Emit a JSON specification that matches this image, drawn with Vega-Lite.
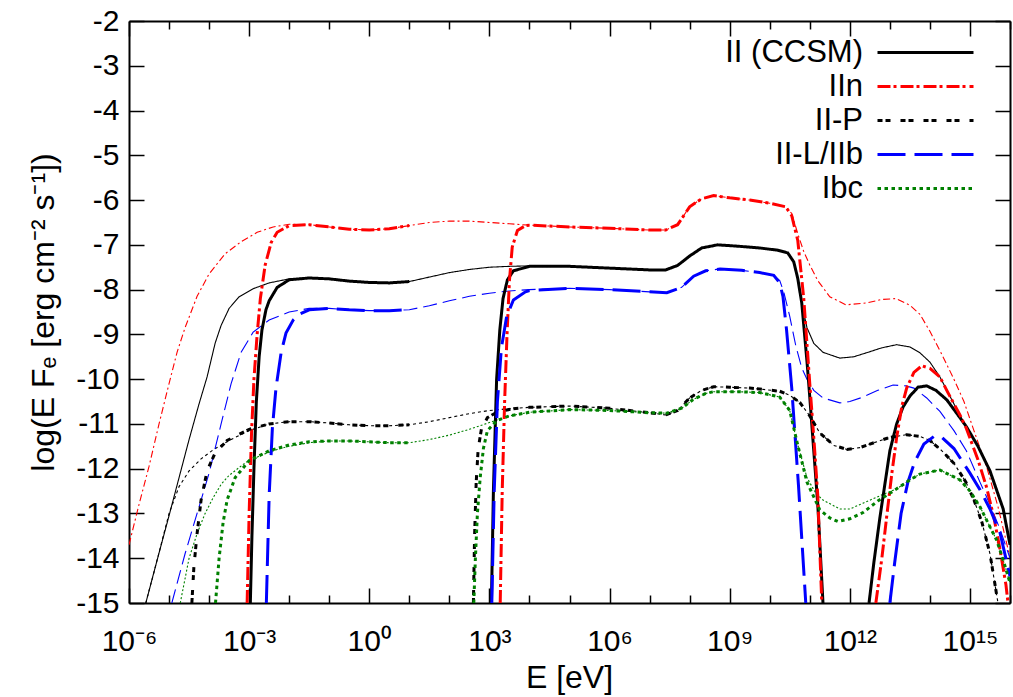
{
"$schema": "https://vega.github.io/schema/vega-lite/v6.json",
"width": 881, "height": 582,
"autosize": {"type": "none"},
"padding": {"left": 129, "top": 21, "right": 3, "bottom": 94},
"background": "white",
"config": {
  "font": "Liberation Sans",
  "view": {"stroke": null},
  "axis": {"domainColor": "black", "domainWidth": 2, "tickColor": "black", "tickWidth": 1.5, "labelColor": "black", "labelFont": "Liberation Sans", "titleFont": "Liberation Sans", "titleColor": "black", "grid": false, "titleFontWeight": "normal"},
  "legend": {"padding": 0, "symbolType": "M-6,0H6", "symbolSize": 256, "symbolStrokeWidth": 3, "labelFontSize": 31, "labelAlign": "right", "labelOffset": -78, "labelBaseline": "middle", "rowPadding": 2, "labelLimit": 300, "labelColor": "black", "labelFont": "Liberation Sans"}
},
"datasets": {
"thin": [
{"type":"II (CCSM)","logE":-5.58,"logF":-15},{"type":"II (CCSM)","logE":-5.3,"logF":-14.05},{"type":"II (CCSM)","logE":-5.0,"logF":-13.05},{"type":"II (CCSM)","logE":-4.75,"logF":-12.2},{"type":"II (CCSM)","logE":-4.5,"logF":-11.35},{"type":"II (CCSM)","logE":-4.25,"logF":-10.55},{"type":"II (CCSM)","logE":-4.05,"logF":-9.95},{"type":"II (CCSM)","logE":-3.85,"logF":-9.2},{"type":"II (CCSM)","logE":-3.7,"logF":-8.8},{"type":"II (CCSM)","logE":-3.5,"logF":-8.42},{"type":"II (CCSM)","logE":-3.25,"logF":-8.16},{"type":"II (CCSM)","logE":-2.9,"logF":-7.98},{"type":"II (CCSM)","logE":-2.5,"logF":-7.85},{"type":"II (CCSM)","logE":-2.0,"logF":-7.76},{"type":"II (CCSM)","logE":-1.5,"logF":-7.74},{"type":"II (CCSM)","logE":-1.0,"logF":-7.76},{"type":"II (CCSM)","logE":-0.5,"logF":-7.81},{"type":"II (CCSM)","logE":0,"logF":-7.84},{"type":"II (CCSM)","logE":0.5,"logF":-7.85},{"type":"II (CCSM)","logE":1.0,"logF":-7.82},{"type":"II (CCSM)","logE":1.5,"logF":-7.72},{"type":"II (CCSM)","logE":2.0,"logF":-7.62},{"type":"II (CCSM)","logE":2.5,"logF":-7.55},{"type":"II (CCSM)","logE":3.0,"logF":-7.5},{"type":"II (CCSM)","logE":3.5,"logF":-7.48},{"type":"II (CCSM)","logE":4.0,"logF":-7.47},{"type":"II (CCSM)","logE":5.0,"logF":-7.48},{"type":"II (CCSM)","logE":6.0,"logF":-7.52},{"type":"II (CCSM)","logE":7.0,"logF":-7.56},{"type":"II (CCSM)","logE":7.4,"logF":-7.56},{"type":"II (CCSM)","logE":7.7,"logF":-7.46},{"type":"II (CCSM)","logE":8.0,"logF":-7.25},{"type":"II (CCSM)","logE":8.3,"logF":-7.07},{"type":"II (CCSM)","logE":8.7,"logF":-7.0},{"type":"II (CCSM)","logE":9.2,"logF":-7.03},{"type":"II (CCSM)","logE":9.75,"logF":-7.07},{"type":"II (CCSM)","logE":10.2,"logF":-7.12},{"type":"II (CCSM)","logE":10.45,"logF":-7.18},{"type":"II (CCSM)","logE":10.6,"logF":-7.38},{"type":"II (CCSM)","logE":10.7,"logF":-7.75},{"type":"II (CCSM)","logE":10.8,"logF":-8.3},{"type":"II (CCSM)","logE":10.93,"logF":-8.85},{"type":"II (CCSM)","logE":11.1,"logF":-9.2},{"type":"II (CCSM)","logE":11.33,"logF":-9.4},{"type":"II (CCSM)","logE":11.75,"logF":-9.53},{"type":"II (CCSM)","logE":12.1,"logF":-9.5},{"type":"II (CCSM)","logE":12.42,"logF":-9.41},{"type":"II (CCSM)","logE":12.8,"logF":-9.3},{"type":"II (CCSM)","logE":13.17,"logF":-9.23},{"type":"II (CCSM)","logE":13.5,"logF":-9.28},{"type":"II (CCSM)","logE":13.75,"logF":-9.41},{"type":"II (CCSM)","logE":14.0,"logF":-9.62},{"type":"II (CCSM)","logE":14.25,"logF":-9.95},{"type":"II (CCSM)","logE":14.5,"logF":-10.38},{"type":"II (CCSM)","logE":14.85,"logF":-10.98},{"type":"II (CCSM)","logE":15.2,"logF":-11.5},{"type":"II (CCSM)","logE":15.5,"logF":-12.05},{"type":"II (CCSM)","logE":15.83,"logF":-12.9},{"type":"II (CCSM)","logE":16.0,"logF":-13.7},
{"type":"IIn","logE":-6.0,"logF":-13.7},{"type":"IIn","logE":-5.75,"logF":-12.8},{"type":"IIn","logE":-5.5,"logF":-11.95},{"type":"IIn","logE":-5.25,"logF":-11.0},{"type":"IIn","logE":-5.0,"logF":-10.1},{"type":"IIn","logE":-4.8,"logF":-9.4},{"type":"IIn","logE":-4.6,"logF":-8.85},{"type":"IIn","logE":-4.3,"logF":-8.15},{"type":"IIn","logE":-4.0,"logF":-7.65},{"type":"IIn","logE":-3.6,"logF":-7.2},{"type":"IIn","logE":-3.2,"logF":-6.93},{"type":"IIn","logE":-2.8,"logF":-6.72},{"type":"IIn","logE":-2.4,"logF":-6.6},{"type":"IIn","logE":-2.0,"logF":-6.54},{"type":"IIn","logE":-1.5,"logF":-6.55},{"type":"IIn","logE":-1.0,"logF":-6.6},{"type":"IIn","logE":-0.5,"logF":-6.65},{"type":"IIn","logE":0,"logF":-6.67},{"type":"IIn","logE":0.5,"logF":-6.64},{"type":"IIn","logE":1.0,"logF":-6.57},{"type":"IIn","logE":1.5,"logF":-6.5},{"type":"IIn","logE":2.0,"logF":-6.47},{"type":"IIn","logE":2.5,"logF":-6.47},{"type":"IIn","logE":3.0,"logF":-6.5},{"type":"IIn","logE":3.5,"logF":-6.53},{"type":"IIn","logE":4.0,"logF":-6.56},{"type":"IIn","logE":5.0,"logF":-6.6},{"type":"IIn","logE":6.0,"logF":-6.63},{"type":"IIn","logE":7.0,"logF":-6.67},{"type":"IIn","logE":7.4,"logF":-6.67},{"type":"IIn","logE":7.7,"logF":-6.55},{"type":"IIn","logE":8.0,"logF":-6.15},{"type":"IIn","logE":8.3,"logF":-5.97},{"type":"IIn","logE":8.6,"logF":-5.9},{"type":"IIn","logE":9.0,"logF":-5.95},{"type":"IIn","logE":9.5,"logF":-6.0},{"type":"IIn","logE":10.0,"logF":-6.07},{"type":"IIn","logE":10.4,"logF":-6.15},{"type":"IIn","logE":10.55,"logF":-6.3},{"type":"IIn","logE":10.7,"logF":-6.75},{"type":"IIn","logE":10.85,"logF":-7.15},{"type":"IIn","logE":11.0,"logF":-7.45},{"type":"IIn","logE":11.2,"logF":-7.8},{"type":"IIn","logE":11.5,"logF":-8.16},{"type":"IIn","logE":11.9,"logF":-8.34},{"type":"IIn","logE":12.4,"logF":-8.3},{"type":"IIn","logE":12.8,"logF":-8.22},{"type":"IIn","logE":13.15,"logF":-8.2},{"type":"IIn","logE":13.5,"logF":-8.35},{"type":"IIn","logE":13.75,"logF":-8.55},{"type":"IIn","logE":14.0,"logF":-8.93},{"type":"IIn","logE":14.3,"logF":-9.45},{"type":"IIn","logE":14.6,"logF":-10.0},{"type":"IIn","logE":14.85,"logF":-10.5},{"type":"IIn","logE":15.1,"logF":-11.15},{"type":"IIn","logE":15.43,"logF":-12.0},{"type":"IIn","logE":15.7,"logF":-12.85},{"type":"IIn","logE":15.9,"logF":-13.6},{"type":"IIn","logE":16.0,"logF":-14.0},
{"type":"II-P","logE":-5.58,"logF":-15},{"type":"II-P","logE":-5.3,"logF":-14.05},{"type":"II-P","logE":-5.0,"logF":-13.0},{"type":"II-P","logE":-4.75,"logF":-12.4},{"type":"II-P","logE":-4.5,"logF":-12.05},{"type":"II-P","logE":-4.2,"logF":-11.78},{"type":"II-P","logE":-3.9,"logF":-11.58},{"type":"II-P","logE":-3.5,"logF":-11.37},{"type":"II-P","logE":-3.0,"logF":-11.15},{"type":"II-P","logE":-2.5,"logF":-11.0},{"type":"II-P","logE":-2.0,"logF":-10.95},{"type":"II-P","logE":-1.5,"logF":-10.95},{"type":"II-P","logE":-1.0,"logF":-10.98},{"type":"II-P","logE":-0.5,"logF":-11.02},{"type":"II-P","logE":0,"logF":-11.04},{"type":"II-P","logE":0.5,"logF":-11.04},{"type":"II-P","logE":1.0,"logF":-11.02},{"type":"II-P","logE":1.5,"logF":-10.95},{"type":"II-P","logE":2.0,"logF":-10.86},{"type":"II-P","logE":2.5,"logF":-10.77},{"type":"II-P","logE":3.0,"logF":-10.7},{"type":"II-P","logE":3.5,"logF":-10.66},{"type":"II-P","logE":4.0,"logF":-10.63},{"type":"II-P","logE":5.0,"logF":-10.6},{"type":"II-P","logE":6.0,"logF":-10.65},{"type":"II-P","logE":7.0,"logF":-10.75},{"type":"II-P","logE":7.4,"logF":-10.8},{"type":"II-P","logE":7.7,"logF":-10.7},{"type":"II-P","logE":8.0,"logF":-10.42},{"type":"II-P","logE":8.3,"logF":-10.25},{"type":"II-P","logE":8.6,"logF":-10.17},{"type":"II-P","logE":9.0,"logF":-10.18},{"type":"II-P","logE":9.5,"logF":-10.2},{"type":"II-P","logE":9.75,"logF":-10.22},{"type":"II-P","logE":10.25,"logF":-10.27},{"type":"II-P","logE":10.5,"logF":-10.36},{"type":"II-P","logE":10.75,"logF":-10.52},{"type":"II-P","logE":11.0,"logF":-10.82},{"type":"II-P","logE":11.25,"logF":-11.2},{"type":"II-P","logE":11.6,"logF":-11.48},{"type":"II-P","logE":11.93,"logF":-11.57},{"type":"II-P","logE":12.25,"logF":-11.53},{"type":"II-P","logE":12.6,"logF":-11.42},{"type":"II-P","logE":13.0,"logF":-11.3},{"type":"II-P","logE":13.42,"logF":-11.24},{"type":"II-P","logE":13.75,"logF":-11.28},{"type":"II-P","logE":14.0,"logF":-11.37},{"type":"II-P","logE":14.3,"logF":-11.6},{"type":"II-P","logE":14.6,"logF":-11.88},{"type":"II-P","logE":14.9,"logF":-12.3},{"type":"II-P","logE":15.1,"logF":-12.7},{"type":"II-P","logE":15.3,"logF":-13.2},{"type":"II-P","logE":15.5,"logF":-13.9},{"type":"II-P","logE":15.7,"logF":-15},
{"type":"II-L/IIb","logE":-4.93,"logF":-15},{"type":"II-L/IIb","logE":-4.6,"logF":-13.9},{"type":"II-L/IIb","logE":-4.3,"logF":-13.0},{"type":"II-L/IIb","logE":-4.0,"logF":-12.1},{"type":"II-L/IIb","logE":-3.7,"logF":-11.0},{"type":"II-L/IIb","logE":-3.45,"logF":-10.1},{"type":"II-L/IIb","logE":-3.2,"logF":-9.4},{"type":"II-L/IIb","logE":-2.9,"logF":-8.95},{"type":"II-L/IIb","logE":-2.5,"logF":-8.68},{"type":"II-L/IIb","logE":-2.0,"logF":-8.5},{"type":"II-L/IIb","logE":-1.5,"logF":-8.42},{"type":"II-L/IIb","logE":-1.0,"logF":-8.42},{"type":"II-L/IIb","logE":-0.5,"logF":-8.45},{"type":"II-L/IIb","logE":0,"logF":-8.47},{"type":"II-L/IIb","logE":0.5,"logF":-8.47},{"type":"II-L/IIb","logE":1.0,"logF":-8.45},{"type":"II-L/IIb","logE":1.5,"logF":-8.36},{"type":"II-L/IIb","logE":2.0,"logF":-8.25},{"type":"II-L/IIb","logE":2.5,"logF":-8.15},{"type":"II-L/IIb","logE":3.0,"logF":-8.08},{"type":"II-L/IIb","logE":3.5,"logF":-8.03},{"type":"II-L/IIb","logE":4.0,"logF":-8.0},{"type":"II-L/IIb","logE":5.0,"logF":-7.97},{"type":"II-L/IIb","logE":6.0,"logF":-8.0},{"type":"II-L/IIb","logE":7.0,"logF":-8.05},{"type":"II-L/IIb","logE":7.43,"logF":-8.07},{"type":"II-L/IIb","logE":7.8,"logF":-7.95},{"type":"II-L/IIb","logE":8.1,"logF":-7.7},{"type":"II-L/IIb","logE":8.4,"logF":-7.58},{"type":"II-L/IIb","logE":8.76,"logF":-7.54},{"type":"II-L/IIb","logE":9.3,"logF":-7.57},{"type":"II-L/IIb","logE":9.75,"logF":-7.62},{"type":"II-L/IIb","logE":10.1,"logF":-7.68},{"type":"II-L/IIb","logE":10.25,"logF":-7.8},{"type":"II-L/IIb","logE":10.35,"logF":-8.05},{"type":"II-L/IIb","logE":10.5,"logF":-8.6},{"type":"II-L/IIb","logE":10.65,"logF":-9.25},{"type":"II-L/IIb","logE":10.8,"logF":-9.75},{"type":"II-L/IIb","logE":10.93,"logF":-10.0},{"type":"II-L/IIb","logE":11.1,"logF":-10.25},{"type":"II-L/IIb","logE":11.33,"logF":-10.42},{"type":"II-L/IIb","logE":11.75,"logF":-10.53},{"type":"II-L/IIb","logE":12.0,"logF":-10.5},{"type":"II-L/IIb","logE":12.33,"logF":-10.4},{"type":"II-L/IIb","logE":12.7,"logF":-10.25},{"type":"II-L/IIb","logE":13.08,"logF":-10.13},{"type":"II-L/IIb","logE":13.4,"logF":-10.15},{"type":"II-L/IIb","logE":13.6,"logF":-10.2},{"type":"II-L/IIb","logE":13.92,"logF":-10.42},{"type":"II-L/IIb","logE":14.25,"logF":-10.72},{"type":"II-L/IIb","logE":14.6,"logF":-11.15},{"type":"II-L/IIb","logE":14.91,"logF":-11.6},{"type":"II-L/IIb","logE":15.25,"logF":-12.3},{"type":"II-L/IIb","logE":15.5,"logF":-12.8},{"type":"II-L/IIb","logE":15.75,"logF":-13.35},{"type":"II-L/IIb","logE":16.0,"logF":-14.0},
{"type":"Ibc","logE":-4.72,"logF":-15},{"type":"Ibc","logE":-4.5,"logF":-14.0},{"type":"Ibc","logE":-4.3,"logF":-13.45},{"type":"Ibc","logE":-4.1,"logF":-13.0},{"type":"Ibc","logE":-3.9,"logF":-12.65},{"type":"Ibc","logE":-3.7,"logF":-12.35},{"type":"Ibc","logE":-3.5,"logF":-12.15},{"type":"Ibc","logE":-3.1,"logF":-11.87},{"type":"Ibc","logE":-2.7,"logF":-11.7},{"type":"Ibc","logE":-2.3,"logF":-11.57},{"type":"Ibc","logE":-2.0,"logF":-11.5},{"type":"Ibc","logE":-1.5,"logF":-11.42},{"type":"Ibc","logE":-1.0,"logF":-11.38},{"type":"Ibc","logE":-0.5,"logF":-11.38},{"type":"Ibc","logE":0,"logF":-11.4},{"type":"Ibc","logE":0.5,"logF":-11.42},{"type":"Ibc","logE":1.0,"logF":-11.42},{"type":"Ibc","logE":1.5,"logF":-11.35},{"type":"Ibc","logE":2.0,"logF":-11.25},{"type":"Ibc","logE":2.5,"logF":-11.12},{"type":"Ibc","logE":3.0,"logF":-10.97},{"type":"Ibc","logE":3.5,"logF":-10.82},{"type":"Ibc","logE":4.0,"logF":-10.74},{"type":"Ibc","logE":5.0,"logF":-10.68},{"type":"Ibc","logE":6.0,"logF":-10.7},{"type":"Ibc","logE":7.0,"logF":-10.75},{"type":"Ibc","logE":7.43,"logF":-10.76},{"type":"Ibc","logE":7.8,"logF":-10.65},{"type":"Ibc","logE":8.08,"logF":-10.46},{"type":"Ibc","logE":8.4,"logF":-10.32},{"type":"Ibc","logE":8.6,"logF":-10.28},{"type":"Ibc","logE":9.2,"logF":-10.28},{"type":"Ibc","logE":9.75,"logF":-10.3},{"type":"Ibc","logE":10.25,"logF":-10.4},{"type":"Ibc","logE":10.5,"logF":-10.7},{"type":"Ibc","logE":10.68,"logF":-11.4},{"type":"Ibc","logE":10.93,"logF":-12.2},{"type":"Ibc","logE":11.15,"logF":-12.55},{"type":"Ibc","logE":11.33,"logF":-12.7},{"type":"Ibc","logE":11.75,"logF":-12.9},{"type":"Ibc","logE":12.0,"logF":-12.9},{"type":"Ibc","logE":12.33,"logF":-12.77},{"type":"Ibc","logE":12.92,"logF":-12.54},{"type":"Ibc","logE":13.17,"logF":-12.45},{"type":"Ibc","logE":13.5,"logF":-12.25},{"type":"Ibc","logE":13.75,"logF":-12.12},{"type":"Ibc","logE":14.25,"logF":-12.03},{"type":"Ibc","logE":14.75,"logF":-12.25},{"type":"Ibc","logE":15.0,"logF":-12.5},{"type":"Ibc","logE":15.25,"logF":-12.85},{"type":"Ibc","logE":15.5,"logF":-13.3},{"type":"Ibc","logE":15.67,"logF":-13.6},{"type":"Ibc","logE":15.85,"logF":-14.1},{"type":"Ibc","logE":16.0,"logF":-14.55}
],
"thick": [
{"type":"II (CCSM)","seg":"a","logE":-2.97,"logF":-15},{"type":"II (CCSM)","seg":"a","logE":-2.93,"logF":-13.5},{"type":"II (CCSM)","seg":"a","logE":-2.88,"logF":-12.0},{"type":"II (CCSM)","seg":"a","logE":-2.82,"logF":-10.5},{"type":"II (CCSM)","seg":"a","logE":-2.75,"logF":-9.5},{"type":"II (CCSM)","seg":"a","logE":-2.68,"logF":-8.9},{"type":"II (CCSM)","seg":"a","logE":-2.58,"logF":-8.45},{"type":"II (CCSM)","seg":"a","logE":-2.5,"logF":-8.25},{"type":"II (CCSM)","seg":"a","logE":-2.3,"logF":-7.95},{"type":"II (CCSM)","seg":"a","logE":-2.0,"logF":-7.78},{"type":"II (CCSM)","seg":"a","logE":-1.5,"logF":-7.74},{"type":"II (CCSM)","seg":"a","logE":-1.0,"logF":-7.76},{"type":"II (CCSM)","seg":"a","logE":-0.5,"logF":-7.81},{"type":"II (CCSM)","seg":"a","logE":0,"logF":-7.84},{"type":"II (CCSM)","seg":"a","logE":0.5,"logF":-7.85},{"type":"II (CCSM)","seg":"a","logE":1.0,"logF":-7.82},
{"type":"II (CCSM)","seg":"b","logE":3.05,"logF":-15},{"type":"II (CCSM)","seg":"b","logE":3.1,"logF":-12.5},{"type":"II (CCSM)","seg":"b","logE":3.18,"logF":-10.0},{"type":"II (CCSM)","seg":"b","logE":3.26,"logF":-8.9},{"type":"II (CCSM)","seg":"b","logE":3.34,"logF":-8.2},{"type":"II (CCSM)","seg":"b","logE":3.45,"logF":-7.78},{"type":"II (CCSM)","seg":"b","logE":3.6,"logF":-7.58},{"type":"II (CCSM)","seg":"b","logE":4.0,"logF":-7.48},{"type":"II (CCSM)","seg":"b","logE":5.0,"logF":-7.48},{"type":"II (CCSM)","seg":"b","logE":6.0,"logF":-7.52},{"type":"II (CCSM)","seg":"b","logE":7.0,"logF":-7.56},{"type":"II (CCSM)","seg":"b","logE":7.4,"logF":-7.56},{"type":"II (CCSM)","seg":"b","logE":7.7,"logF":-7.46},{"type":"II (CCSM)","seg":"b","logE":8.0,"logF":-7.25},{"type":"II (CCSM)","seg":"b","logE":8.3,"logF":-7.07},{"type":"II (CCSM)","seg":"b","logE":8.7,"logF":-7.0},{"type":"II (CCSM)","seg":"b","logE":9.2,"logF":-7.03},{"type":"II (CCSM)","seg":"b","logE":9.75,"logF":-7.07},{"type":"II (CCSM)","seg":"b","logE":10.2,"logF":-7.12},{"type":"II (CCSM)","seg":"b","logE":10.45,"logF":-7.18},{"type":"II (CCSM)","seg":"b","logE":10.6,"logF":-7.38},{"type":"II (CCSM)","seg":"b","logE":10.7,"logF":-7.75},{"type":"II (CCSM)","seg":"b","logE":10.8,"logF":-8.3},{"type":"II (CCSM)","seg":"b","logE":10.93,"logF":-9.6},{"type":"II (CCSM)","seg":"b","logE":11.0,"logF":-10.4},{"type":"II (CCSM)","seg":"b","logE":11.1,"logF":-11.6},{"type":"II (CCSM)","seg":"b","logE":11.2,"logF":-12.8},{"type":"II (CCSM)","seg":"b","logE":11.33,"logF":-15},
{"type":"II (CCSM)","seg":"c","logE":12.48,"logF":-15},{"type":"II (CCSM)","seg":"c","logE":12.6,"logF":-14.1},{"type":"II (CCSM)","seg":"c","logE":12.75,"logF":-13.1},{"type":"II (CCSM)","seg":"c","logE":12.9,"logF":-12.2},{"type":"II (CCSM)","seg":"c","logE":13.0,"logF":-11.6},{"type":"II (CCSM)","seg":"c","logE":13.17,"logF":-11.0},{"type":"II (CCSM)","seg":"c","logE":13.33,"logF":-10.62},{"type":"II (CCSM)","seg":"c","logE":13.5,"logF":-10.38},{"type":"II (CCSM)","seg":"c","logE":13.7,"logF":-10.18},{"type":"II (CCSM)","seg":"c","logE":13.92,"logF":-10.15},{"type":"II (CCSM)","seg":"c","logE":14.15,"logF":-10.25},{"type":"II (CCSM)","seg":"c","logE":14.42,"logF":-10.46},{"type":"II (CCSM)","seg":"c","logE":14.7,"logF":-10.8},{"type":"II (CCSM)","seg":"c","logE":14.91,"logF":-11.06},{"type":"II (CCSM)","seg":"c","logE":15.2,"logF":-11.5},{"type":"II (CCSM)","seg":"c","logE":15.5,"logF":-12.05},{"type":"II (CCSM)","seg":"c","logE":15.83,"logF":-12.9},{"type":"II (CCSM)","seg":"c","logE":16.0,"logF":-13.7},
{"type":"IIn","seg":"a","logE":-3.05,"logF":-15},{"type":"IIn","seg":"a","logE":-3.0,"logF":-13.0},{"type":"IIn","seg":"a","logE":-2.94,"logF":-11.2},{"type":"IIn","seg":"a","logE":-2.88,"logF":-10.0},{"type":"IIn","seg":"a","logE":-2.8,"logF":-9.0},{"type":"IIn","seg":"a","logE":-2.72,"logF":-8.2},{"type":"IIn","seg":"a","logE":-2.6,"logF":-7.45},{"type":"IIn","seg":"a","logE":-2.45,"logF":-6.95},{"type":"IIn","seg":"a","logE":-2.3,"logF":-6.72},{"type":"IIn","seg":"a","logE":-2.0,"logF":-6.57},{"type":"IIn","seg":"a","logE":-1.5,"logF":-6.55},{"type":"IIn","seg":"a","logE":-1.0,"logF":-6.6},{"type":"IIn","seg":"a","logE":-0.5,"logF":-6.65},{"type":"IIn","seg":"a","logE":0,"logF":-6.67},{"type":"IIn","seg":"a","logE":0.5,"logF":-6.64},{"type":"IIn","seg":"a","logE":1.0,"logF":-6.57},
{"type":"IIn","seg":"b","logE":3.27,"logF":-15},{"type":"IIn","seg":"b","logE":3.32,"logF":-12.5},{"type":"IIn","seg":"b","logE":3.38,"logF":-10.5},{"type":"IIn","seg":"b","logE":3.44,"logF":-9.0},{"type":"IIn","seg":"b","logE":3.5,"logF":-7.8},{"type":"IIn","seg":"b","logE":3.57,"logF":-7.05},{"type":"IIn","seg":"b","logE":3.7,"logF":-6.68},{"type":"IIn","seg":"b","logE":3.9,"logF":-6.57},{"type":"IIn","seg":"b","logE":4.0,"logF":-6.56},{"type":"IIn","seg":"b","logE":5.0,"logF":-6.6},{"type":"IIn","seg":"b","logE":6.0,"logF":-6.63},{"type":"IIn","seg":"b","logE":7.0,"logF":-6.67},{"type":"IIn","seg":"b","logE":7.4,"logF":-6.67},{"type":"IIn","seg":"b","logE":7.7,"logF":-6.55},{"type":"IIn","seg":"b","logE":8.0,"logF":-6.15},{"type":"IIn","seg":"b","logE":8.3,"logF":-5.97},{"type":"IIn","seg":"b","logE":8.6,"logF":-5.9},{"type":"IIn","seg":"b","logE":9.0,"logF":-5.95},{"type":"IIn","seg":"b","logE":9.5,"logF":-6.0},{"type":"IIn","seg":"b","logE":10.0,"logF":-6.07},{"type":"IIn","seg":"b","logE":10.4,"logF":-6.15},{"type":"IIn","seg":"b","logE":10.55,"logF":-6.35},{"type":"IIn","seg":"b","logE":10.7,"logF":-6.9},{"type":"IIn","seg":"b","logE":10.85,"logF":-8.2},{"type":"IIn","seg":"b","logE":11.0,"logF":-10.1},{"type":"IIn","seg":"b","logE":11.1,"logF":-11.3},{"type":"IIn","seg":"b","logE":11.2,"logF":-12.6},{"type":"IIn","seg":"b","logE":11.3,"logF":-15},
{"type":"IIn","seg":"c","logE":12.65,"logF":-15},{"type":"IIn","seg":"c","logE":12.8,"logF":-14.0},{"type":"IIn","seg":"c","logE":12.93,"logF":-13.0},{"type":"IIn","seg":"c","logE":13.05,"logF":-12.1},{"type":"IIn","seg":"c","logE":13.17,"logF":-11.3},{"type":"IIn","seg":"c","logE":13.3,"logF":-10.6},{"type":"IIn","seg":"c","logE":13.42,"logF":-10.2},{"type":"IIn","seg":"c","logE":13.6,"logF":-9.85},{"type":"IIn","seg":"c","logE":13.8,"logF":-9.7},{"type":"IIn","seg":"c","logE":14.0,"logF":-9.76},{"type":"IIn","seg":"c","logE":14.25,"logF":-9.95},{"type":"IIn","seg":"c","logE":14.45,"logF":-10.3},{"type":"IIn","seg":"c","logE":14.75,"logF":-10.8},{"type":"IIn","seg":"c","logE":14.91,"logF":-11.1},{"type":"IIn","seg":"c","logE":15.2,"logF":-11.8},{"type":"IIn","seg":"c","logE":15.41,"logF":-12.4},{"type":"IIn","seg":"c","logE":15.6,"logF":-13.1},{"type":"IIn","seg":"c","logE":15.75,"logF":-13.8},{"type":"IIn","seg":"c","logE":15.9,"logF":-14.6},{"type":"IIn","seg":"c","logE":15.95,"logF":-15},
{"type":"II-P","seg":"a","logE":-4.43,"logF":-15},{"type":"II-P","seg":"a","logE":-4.38,"logF":-14.2},{"type":"II-P","seg":"a","logE":-4.3,"logF":-13.45},{"type":"II-P","seg":"a","logE":-4.2,"logF":-12.7},{"type":"II-P","seg":"a","logE":-4.05,"logF":-12.05},{"type":"II-P","seg":"a","logE":-3.85,"logF":-11.65},{"type":"II-P","seg":"a","logE":-3.55,"logF":-11.37},{"type":"II-P","seg":"a","logE":-3.0,"logF":-11.12},{"type":"II-P","seg":"a","logE":-2.5,"logF":-11.0},{"type":"II-P","seg":"a","logE":-2.0,"logF":-10.95},{"type":"II-P","seg":"a","logE":-1.5,"logF":-10.95},{"type":"II-P","seg":"a","logE":-1.0,"logF":-10.98},{"type":"II-P","seg":"a","logE":-0.5,"logF":-11.02},{"type":"II-P","seg":"a","logE":0,"logF":-11.04},{"type":"II-P","seg":"a","logE":0.5,"logF":-11.04},{"type":"II-P","seg":"a","logE":1.0,"logF":-11.02},
{"type":"II-P","seg":"b","logE":2.6,"logF":-15},{"type":"II-P","seg":"b","logE":2.63,"logF":-13.5},{"type":"II-P","seg":"b","logE":2.67,"logF":-12.3},{"type":"II-P","seg":"b","logE":2.72,"logF":-11.55},{"type":"II-P","seg":"b","logE":2.8,"logF":-11.12},{"type":"II-P","seg":"b","logE":2.95,"logF":-10.86},{"type":"II-P","seg":"b","logE":3.2,"logF":-10.73},{"type":"II-P","seg":"b","logE":3.6,"logF":-10.66},{"type":"II-P","seg":"b","logE":4.0,"logF":-10.63},{"type":"II-P","seg":"b","logE":5.0,"logF":-10.6},{"type":"II-P","seg":"b","logE":6.0,"logF":-10.65},{"type":"II-P","seg":"b","logE":7.0,"logF":-10.75},{"type":"II-P","seg":"b","logE":7.4,"logF":-10.8},{"type":"II-P","seg":"b","logE":7.7,"logF":-10.7},{"type":"II-P","seg":"b","logE":8.0,"logF":-10.42},{"type":"II-P","seg":"b","logE":8.3,"logF":-10.25},{"type":"II-P","seg":"b","logE":8.6,"logF":-10.17},{"type":"II-P","seg":"b","logE":9.0,"logF":-10.18},{"type":"II-P","seg":"b","logE":9.5,"logF":-10.2},{"type":"II-P","seg":"b","logE":9.75,"logF":-10.22},{"type":"II-P","seg":"b","logE":10.25,"logF":-10.27},{"type":"II-P","seg":"b","logE":10.5,"logF":-10.36},{"type":"II-P","seg":"b","logE":10.75,"logF":-10.52},{"type":"II-P","seg":"b","logE":11.0,"logF":-10.82},{"type":"II-P","seg":"b","logE":11.25,"logF":-11.2},{"type":"II-P","seg":"b","logE":11.6,"logF":-11.48},{"type":"II-P","seg":"b","logE":11.93,"logF":-11.57},{"type":"II-P","seg":"b","logE":12.25,"logF":-11.53},{"type":"II-P","seg":"b","logE":12.6,"logF":-11.42},{"type":"II-P","seg":"b","logE":13.0,"logF":-11.3},{"type":"II-P","seg":"b","logE":13.42,"logF":-11.24},{"type":"II-P","seg":"b","logE":13.75,"logF":-11.28},{"type":"II-P","seg":"b","logE":14.0,"logF":-11.37},{"type":"II-P","seg":"b","logE":14.3,"logF":-11.6},{"type":"II-P","seg":"b","logE":14.6,"logF":-11.88},{"type":"II-P","seg":"b","logE":14.9,"logF":-12.3},{"type":"II-P","seg":"b","logE":15.1,"logF":-12.7},{"type":"II-P","seg":"b","logE":15.3,"logF":-13.2},{"type":"II-P","seg":"b","logE":15.5,"logF":-13.9},{"type":"II-P","seg":"b","logE":15.7,"logF":-15},
{"type":"II-L/IIb","seg":"a","logE":-2.57,"logF":-15},{"type":"II-L/IIb","seg":"a","logE":-2.5,"logF":-12.6},{"type":"II-L/IIb","seg":"a","logE":-2.42,"logF":-11.1},{"type":"II-L/IIb","seg":"a","logE":-2.33,"logF":-10.2},{"type":"II-L/IIb","seg":"a","logE":-2.2,"logF":-9.4},{"type":"II-L/IIb","seg":"a","logE":-2.08,"logF":-8.97},{"type":"II-L/IIb","seg":"a","logE":-1.9,"logF":-8.68},{"type":"II-L/IIb","seg":"a","logE":-1.75,"logF":-8.55},{"type":"II-L/IIb","seg":"a","logE":-1.5,"logF":-8.45},{"type":"II-L/IIb","seg":"a","logE":-1.0,"logF":-8.42},{"type":"II-L/IIb","seg":"a","logE":-0.5,"logF":-8.45},{"type":"II-L/IIb","seg":"a","logE":0,"logF":-8.47},{"type":"II-L/IIb","seg":"a","logE":0.5,"logF":-8.47},{"type":"II-L/IIb","seg":"a","logE":1.0,"logF":-8.45},
{"type":"II-L/IIb","seg":"b","logE":3.06,"logF":-15},{"type":"II-L/IIb","seg":"b","logE":3.12,"logF":-12.5},{"type":"II-L/IIb","seg":"b","logE":3.2,"logF":-10.5},{"type":"II-L/IIb","seg":"b","logE":3.3,"logF":-9.3},{"type":"II-L/IIb","seg":"b","logE":3.43,"logF":-8.6},{"type":"II-L/IIb","seg":"b","logE":3.6,"logF":-8.23},{"type":"II-L/IIb","seg":"b","logE":3.9,"logF":-8.05},{"type":"II-L/IIb","seg":"b","logE":4.0,"logF":-8.02},{"type":"II-L/IIb","seg":"b","logE":5.0,"logF":-7.97},{"type":"II-L/IIb","seg":"b","logE":6.0,"logF":-8.0},{"type":"II-L/IIb","seg":"b","logE":7.0,"logF":-8.05},{"type":"II-L/IIb","seg":"b","logE":7.43,"logF":-8.07},{"type":"II-L/IIb","seg":"b","logE":7.8,"logF":-7.95},{"type":"II-L/IIb","seg":"b","logE":8.1,"logF":-7.7},{"type":"II-L/IIb","seg":"b","logE":8.4,"logF":-7.58},{"type":"II-L/IIb","seg":"b","logE":8.76,"logF":-7.54},{"type":"II-L/IIb","seg":"b","logE":9.3,"logF":-7.57},{"type":"II-L/IIb","seg":"b","logE":9.75,"logF":-7.62},{"type":"II-L/IIb","seg":"b","logE":10.1,"logF":-7.68},{"type":"II-L/IIb","seg":"b","logE":10.25,"logF":-7.85},{"type":"II-L/IIb","seg":"b","logE":10.33,"logF":-8.15},{"type":"II-L/IIb","seg":"b","logE":10.42,"logF":-8.9},{"type":"II-L/IIb","seg":"b","logE":10.55,"logF":-10.2},{"type":"II-L/IIb","seg":"b","logE":10.72,"logF":-12.4},{"type":"II-L/IIb","seg":"b","logE":10.9,"logF":-15},
{"type":"II-L/IIb","seg":"c","logE":13.0,"logF":-15},{"type":"II-L/IIb","seg":"c","logE":13.12,"logF":-14.1},{"type":"II-L/IIb","seg":"c","logE":13.28,"logF":-13.0},{"type":"II-L/IIb","seg":"c","logE":13.45,"logF":-12.3},{"type":"II-L/IIb","seg":"c","logE":13.62,"logF":-11.85},{"type":"II-L/IIb","seg":"c","logE":13.85,"logF":-11.45},{"type":"II-L/IIb","seg":"c","logE":14.1,"logF":-11.28},{"type":"II-L/IIb","seg":"c","logE":14.3,"logF":-11.3},{"type":"II-L/IIb","seg":"c","logE":14.6,"logF":-11.55},{"type":"II-L/IIb","seg":"c","logE":15.0,"logF":-12.1},{"type":"II-L/IIb","seg":"c","logE":15.25,"logF":-12.47},{"type":"II-L/IIb","seg":"c","logE":15.5,"logF":-12.9},{"type":"II-L/IIb","seg":"c","logE":15.75,"logF":-13.43},{"type":"II-L/IIb","seg":"c","logE":16.0,"logF":-14.4},
{"type":"Ibc","seg":"a","logE":-3.84,"logF":-15},{"type":"Ibc","seg":"a","logE":-3.75,"logF":-14.0},{"type":"Ibc","seg":"a","logE":-3.65,"logF":-13.2},{"type":"Ibc","seg":"a","logE":-3.55,"logF":-12.7},{"type":"Ibc","seg":"a","logE":-3.35,"logF":-12.2},{"type":"Ibc","seg":"a","logE":-3.0,"logF":-11.82},{"type":"Ibc","seg":"a","logE":-2.5,"logF":-11.6},{"type":"Ibc","seg":"a","logE":-2.0,"logF":-11.47},{"type":"Ibc","seg":"a","logE":-1.5,"logF":-11.4},{"type":"Ibc","seg":"a","logE":-1.0,"logF":-11.38},{"type":"Ibc","seg":"a","logE":-0.5,"logF":-11.38},{"type":"Ibc","seg":"a","logE":0,"logF":-11.4},{"type":"Ibc","seg":"a","logE":0.5,"logF":-11.42},{"type":"Ibc","seg":"a","logE":1.0,"logF":-11.42},
{"type":"Ibc","seg":"b","logE":2.61,"logF":-15},{"type":"Ibc","seg":"b","logE":2.65,"logF":-14.0},{"type":"Ibc","seg":"b","logE":2.7,"logF":-13.0},{"type":"Ibc","seg":"b","logE":2.77,"logF":-12.2},{"type":"Ibc","seg":"b","logE":2.85,"logF":-11.55},{"type":"Ibc","seg":"b","logE":2.95,"logF":-11.15},{"type":"Ibc","seg":"b","logE":3.18,"logF":-10.93},{"type":"Ibc","seg":"b","logE":3.5,"logF":-10.82},{"type":"Ibc","seg":"b","logE":4.0,"logF":-10.74},{"type":"Ibc","seg":"b","logE":5.0,"logF":-10.68},{"type":"Ibc","seg":"b","logE":6.0,"logF":-10.7},{"type":"Ibc","seg":"b","logE":7.0,"logF":-10.75},{"type":"Ibc","seg":"b","logE":7.43,"logF":-10.76},{"type":"Ibc","seg":"b","logE":7.8,"logF":-10.65},{"type":"Ibc","seg":"b","logE":8.08,"logF":-10.46},{"type":"Ibc","seg":"b","logE":8.4,"logF":-10.32},{"type":"Ibc","seg":"b","logE":8.6,"logF":-10.28},{"type":"Ibc","seg":"b","logE":9.2,"logF":-10.28},{"type":"Ibc","seg":"b","logE":9.75,"logF":-10.3},{"type":"Ibc","seg":"b","logE":10.25,"logF":-10.4},{"type":"Ibc","seg":"b","logE":10.5,"logF":-10.7},{"type":"Ibc","seg":"b","logE":10.68,"logF":-11.4},{"type":"Ibc","seg":"b","logE":10.93,"logF":-12.3},{"type":"Ibc","seg":"b","logE":11.25,"logF":-12.92},{"type":"Ibc","seg":"b","logE":11.5,"logF":-13.1},{"type":"Ibc","seg":"b","logE":11.7,"logF":-13.18},{"type":"Ibc","seg":"b","logE":12.0,"logF":-13.12},{"type":"Ibc","seg":"b","logE":12.33,"logF":-12.98},{"type":"Ibc","seg":"b","logE":12.7,"logF":-12.72},{"type":"Ibc","seg":"b","logE":13.17,"logF":-12.45},{"type":"Ibc","seg":"b","logE":13.5,"logF":-12.25},{"type":"Ibc","seg":"b","logE":13.75,"logF":-12.12},{"type":"Ibc","seg":"b","logE":14.25,"logF":-12.03},{"type":"Ibc","seg":"b","logE":14.75,"logF":-12.25},{"type":"Ibc","seg":"b","logE":15.0,"logF":-12.5},{"type":"Ibc","seg":"b","logE":15.25,"logF":-12.85},{"type":"Ibc","seg":"b","logE":15.5,"logF":-13.3},{"type":"Ibc","seg":"b","logE":15.67,"logF":-13.6},{"type":"Ibc","seg":"b","logE":15.85,"logF":-14.1},{"type":"Ibc","seg":"b","logE":16.0,"logF":-14.55}
]
},
"layer": [
{
  "data": {"name": "thin"},
  "mark": {"type": "line", "strokeWidth": 1.1, "clip": true},
  "encoding": {
    "x": {"field": "logE", "type": "quantitative", "scale": {"domain": [-6, 16], "nice": false, "zero": false},
      "axis": {"orient": "top", "values": [-6,-5,-4,-3,-2,-1,0,1,2,3,4,5,6,7,8,9,10,11,12,13,14,15,16], "labels": false, "title": null,
        "tickSize": {"condition": {"test": "datum.value % 3 == 0", "value": -15}, "value": -8}}},
    "y": {"field": "logF", "type": "quantitative", "scale": {"domain": [-15, -2], "nice": false, "zero": false},
      "axis": {"orient": "right", "values": [-15,-14,-13,-12,-11,-10,-9,-8,-7,-6,-5,-4,-3,-2], "labels": false, "title": null, "tickSize": -15}},
    "color": {"field": "type", "type": "nominal", "scale": {"domain": ["II (CCSM)","IIn","II-P","II-L/IIb","Ibc"], "range": ["#000000","#ff0000","#000000","#0000ff","#008000"]}, "legend": null},
    "strokeDash": {"field": "type", "type": "nominal", "scale": {"domain": ["II (CCSM)","IIn","II-P","II-L/IIb","Ibc"], "range": [[1,0],[7,3,2,3],[3,3],[14,6],[2,2]]}, "legend": null}
  }
},
{
  "data": {"name": "thick"},
  "mark": {"type": "line", "strokeWidth": 3, "clip": true},
  "encoding": {
    "x": {"field": "logE", "type": "quantitative", "scale": {"domain": [-6, 16], "nice": false, "zero": false},
      "axis": {"orient": "bottom", "values": [-6,-5,-4,-3,-2,-1,0,1,2,3,4,5,6,7,8,9,10,11,12,13,14,15,16],
        "labelExpr": "['10⁻⁶','','','10⁻³','','','10⁰','','','10³','','','10⁶','','','10⁹','','','10¹²','','','10¹⁵','',''][datum.value + 6]",
        "tickSize": {"condition": {"test": "datum.value % 3 == 0", "value": -15}, "value": -8},
        "labelPadding": 62, "labelBaseline": "alphabetic", "labelFontSize": 30, "labelFlush": false, "labelOverlap": false,
        "title": "E [eV]", "titleFontSize": 32, "titleX": 440, "titleY": 84, "titleBaseline": "alphabetic", "titleAlign": "center"}},
    "y": {"field": "logF", "type": "quantitative", "scale": {"domain": [-15, -2], "nice": false, "zero": false},
      "axis": {"orient": "left", "values": [-15,-14,-13,-12,-11,-10,-9,-8,-7,-6,-5,-4,-3,-2], "labelExpr": "toString(datum.value)",
        "tickSize": -15, "labelPadding": 25, "labelFontSize": 30, "labelAlign": "right", "labelBaseline": "middle", "labelFlush": false, "labelOverlap": false,
        "title": "log(E Fₑ [erg cm⁻² s⁻¹])", "titleFontSize": 32, "titleX": -86, "titleY": 291, "titleAngle": 270, "titleAlign": "center", "titleBaseline": "middle"}},
    "color": {"field": "type", "type": "nominal", "scale": {"domain": ["II (CCSM)","IIn","II-P","II-L/IIb","Ibc"], "range": ["#000000","#ff0000","#000000","#0000ff","#008000"]},
      "legend": {"title": null, "orient": "none", "legendX": 781, "legendY": 16}},
    "strokeDash": {"field": "type", "type": "nominal", "scale": {"domain": ["II (CCSM)","IIn","II-P","II-L/IIb","Ibc"], "range": [[1,0],[13,3,3,4],[5,3,5,10],[28,9],[3.5,3.5]]},
      "legend": {"title": null, "orient": "none", "legendX": 781, "legendY": 16}},
    "detail": {"field": "seg", "type": "nominal"}
  }
}
],
"resolve": {"scale": {"color": "independent", "strokeDash": "independent"}, "axis": {"x": "independent", "y": "independent"}}
}
